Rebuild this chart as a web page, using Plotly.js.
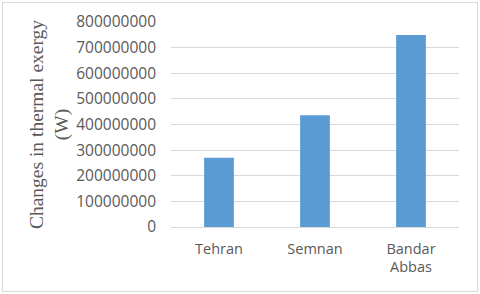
<!DOCTYPE html>
<html><head><meta charset="utf-8">
<script src="https://cdn.plot.ly/plotly-3.0.1.min.js"></script>
<style>body{margin:0;background:#fff}#c{width:480px;height:294px}#b{position:absolute;left:2px;top:2px;width:474px;height:288px;border:1px solid #d9d9d9;pointer-events:none}</style>
</head><body><div id="c"></div><div id="b"></div>
<script>
const categories = ["Tehran", "Semnan", "Bandar<br>Abbas"];
const values = [270000000, 436000000, 749000000];
const yTicks = [0,100000000,200000000,300000000,400000000,500000000,600000000,700000000,800000000];
const yTickLabels = ["0","100000000","200000000","300000000","400000000","500000000","600000000","700000000","800000000"];
Plotly.newPlot('c', [{
  type: 'bar', x: categories, y: values,
  marker: {color: '#5B9BD5'}, hoverinfo: 'none'
}], {
  width: 480, height: 294,
  margin: {l: 171, r: 21, t: 22, b: 67},
  paper_bgcolor: '#fff', plot_bgcolor: '#fff',
  bargap: 0.69,
  showlegend: false,
  font: {family: 'Open Sans, sans-serif', color: '#595959', size: 14},
  xaxis: {
    tickfont: {size: 14.5, color: '#595959'},
    showgrid: false, zeroline: false, showline: false, ticks: '',
    ticklabelstandoff: 11
  },
  yaxis: {
    range: [0, 800000000], tickvals: yTicks, ticktext: yTickLabels,
    showgrid: true, gridcolor: '#d9d9d9', gridwidth: 1,
    zeroline: true, zerolinecolor: '#d9d9d9', zerolinewidth: 1,
    showline: false, ticks: '',
    tickfont: {size: 15.5, color: '#595959'},
    ticklabelstandoff: 14,
    title: {text: 'Changes in thermal exergy<br>(W)', font: {family: 'Liberation Serif, serif', size: 19.5, color: '#595959'}, standoff: 2}
  }
}, {staticPlot: true, displayModeBar: false});
</script></body></html>
